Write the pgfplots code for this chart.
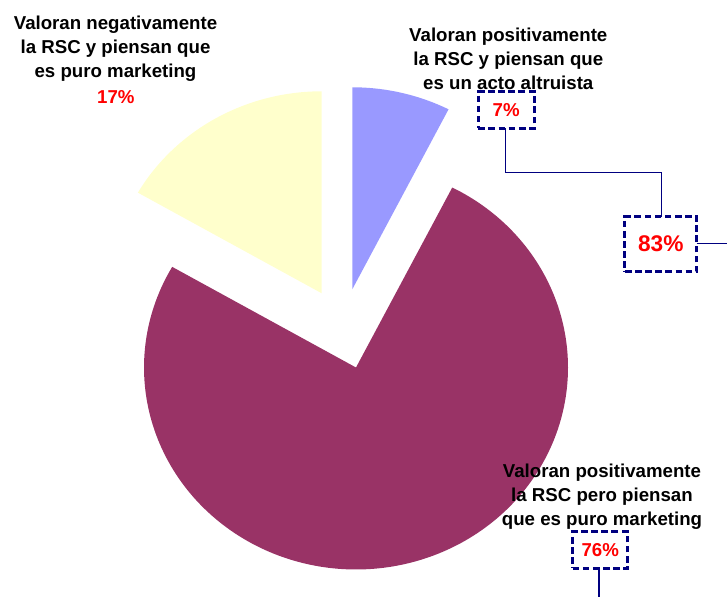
\documentclass[border=0pt]{standalone}
\usepackage{pgfplots}
\usepackage{pgfplotstable}
\pgfplotsset{compat=1.18}
\usepackage{fontspec}
\setmainfont{Liberation Sans}
\definecolor{pieBlue}{HTML}{9999FF}
\definecolor{pieYellow}{HTML}{FFFFCC}
\definecolor{pieMaroon}{HTML}{993366}
\definecolor{navy}{HTML}{000080}
\definecolor{pctRed}{HTML}{FF0000}

% slice value (%), vertex of the (exploded) slice in axis units
\pgfplotstableread{
slice  value  vx     vy
blue   7.5    352.3  307.7
yellow 16.7   321.7  303.7
maroon 75.8   356.0  229.5
}\piedata

\begin{document}
\begin{tikzpicture}
\useasboundingbox (0,0) rectangle (545.25pt,447.75pt);
\pgfplotstablegetelem{0}{value}\of\piedata \let\vB\pgfplotsretval
\pgfplotstablegetelem{1}{value}\of\piedata \let\vY\pgfplotsretval
\pgfplotstablegetelem{2}{value}\of\piedata \let\vM\pgfplotsretval
\pgfplotstablegetelem{0}{vx}\of\piedata \let\xB\pgfplotsretval
\pgfplotstablegetelem{0}{vy}\of\piedata \let\yB\pgfplotsretval
\pgfplotstablegetelem{1}{vx}\of\piedata \let\xY\pgfplotsretval
\pgfplotstablegetelem{1}{vy}\of\piedata \let\yY\pgfplotsretval
\pgfplotstablegetelem{2}{vx}\of\piedata \let\xM\pgfplotsretval
\pgfplotstablegetelem{2}{vy}\of\piedata \let\yM\pgfplotsretval
\pgfmathsetmacro\aBs{90-3.6*\vB}
\pgfmathsetmacro\aBe{90}
\pgfmathsetmacro\aYs{90}
\pgfmathsetmacro\aYe{90+3.6*\vY}
\pgfmathsetmacro\aMs{\aYe}
\pgfmathsetmacro\aMe{\aYe+3.6*\vM}
\begin{axis}[at={(0,0)}, anchor=south west, scale only axis,
  width=545.25pt, height=447.75pt,
  xmin=0, xmax=727, ymin=0, ymax=597,
  hide axis, clip=false]
\addplot[draw=none, fill=pieMaroon, domain=\aMs:\aMe, samples=200, variable=\t]
  ({\xM+212*cos(t)}, {\yM+202*sin(t)}) -- (axis cs:\xM,\yM) -- cycle;
\addplot[draw=none, fill=pieYellow, domain=\aYs:\aYe, samples=60, variable=\t]
  ({\xY+212*cos(t)}, {\yY+202*sin(t)}) -- (axis cs:\xY,\yY) -- cycle;
\addplot[draw=none, fill=pieBlue, domain=\aBs:\aBe, samples=40, variable=\t]
  ({\xB+212*cos(t)}, {\yB+202*sin(t)}) -- (axis cs:\xB,\yB) -- cycle;

% connector lines
\draw[navy, line width=1.1pt] (axis cs:505.7,468.7) -- (axis cs:505.7,424.7)
  -- (axis cs:661.7,424.7) -- (axis cs:661.7,380.3);
\draw[navy, line width=1.1pt] (axis cs:696.7,353.7) -- (axis cs:727,353.7);
\draw[navy, line width=1.1pt] (axis cs:599,28.7) -- (axis cs:599,0);

% texts
\tikzset{lab/.style={font=\bfseries\fontsize{14}{18}\selectfont, align=center, inner sep=0pt},
  pct/.style={font=\bfseries\fontsize{14}{17}\selectfont, text=pctRed, inner sep=0pt},
  pbox/.style={draw=navy, line width=2.2pt, dash pattern=on 5pt off 2.6pt,
    inner sep=0pt, text=pctRed}}
\node[lab] at (axis cs:115.5,548) {Valoran negativamente\\la RSC y piensan que\\es puro marketing};
\node[pct] at (axis cs:115.8,499.5) {17\%};
\node[lab] at (axis cs:508.3,538.5) {Valoran positivamente\\la RSC y piensan que\\es un acto altruista};
\node[pbox, minimum width=41.8pt, minimum height=27.5pt,
  font=\bfseries\fontsize{14}{17}\selectfont] at (axis cs:506.2,487) {7\%};
\node[pbox, minimum width=53.8pt, minimum height=41.3pt,
  font=\bfseries\fontsize{17}{20}\selectfont] at (axis cs:660.8,352.8) {83\%};
\node[lab] at (axis cs:602,100) {Valoran positivamente\\la RSC pero piensan\\que es puro marketing};
\node[pbox, minimum width=41.3pt, minimum height=27.5pt,
  font=\bfseries\fontsize{14}{17}\selectfont] at (axis cs:600.2,47) {76\%};
\end{axis}
\end{tikzpicture}
\end{document}
